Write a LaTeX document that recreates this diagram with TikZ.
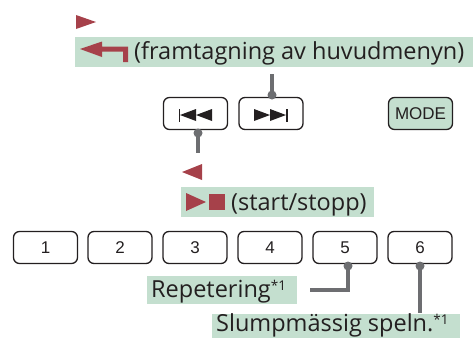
\documentclass[tikz,border=0pt]{standalone}
\usepackage{fontspec}
\setmainfont{Open Sans}
\newfontfamily\btnfont{Liberation Sans}
\definecolor{bandgreen}{HTML}{C4DFCF}
\definecolor{iconred}{HTML}{A6414A}
\definecolor{conngray}{HTML}{6D6E71}
\definecolor{ink}{HTML}{231F20}
\newcommand{\supone}{\raisebox{7pt}{\fontsize{13.5}{14}\selectfont *1}}
\begin{document}
\begin{tikzpicture}[x=1pt,y=-1pt,
  btn/.style={draw=ink,line width=1.3pt,rounded corners=6pt,minimum width=64pt,minimum height=32pt,inner sep=0pt,font=\btnfont\fontsize{17}{17}\selectfont,text=ink},
  band/.style={fill=bandgreen,inner sep=0pt,anchor=north west},
  lbl/.style={anchor=base west,inner sep=0pt,text=ink,font=\fontsize{23.5}{26}\selectfont},
  conn/.style={draw=conngray,line width=4pt},
  dot/.style={fill=conngray,circle,inner sep=0pt,minimum size=9pt},
  red/.style={fill=iconred}]
\useasboundingbox (0,0) rectangle (473,338);
% top band
\node[band,minimum width=398pt,minimum height=30pt] (menuband) at (75,37) {};
\node[lbl] (menutext) at (134,59) {(framtagning av huvudmenyn)};
\fill[red] (76,15) -- (96,22) -- (76,29) -- cycle;
\fill[red] (80,49) -- (102,41.5) -- (102,46.5) -- (128,46.5) -- (128,62) -- (123,62) -- (123,51.5) -- (102,51.5) -- (102,57) -- cycle;
% buttons
\node[btn] (prev) at (195.5,113.5) {};
\node[btn] (next) at (271,113.5) {};
\node[btn,fill=bandgreen] (mode) at (420.5,113.5) {MODE};
\fill[ink] (178.5,108.5) rectangle (180,121.5);
\fill[ink] (180,115) -- (196,109) -- (196,121) -- cycle;
\fill[ink] (196,115) -- (212,109) -- (212,121) -- cycle;
\fill[ink] (254,109) -- (270,115) -- (254,121) -- cycle;
\fill[ink] (270,109) -- (286,115) -- (270,121) -- cycle;
\fill[ink] (286,108.5) rectangle (287.5,121.5);
% top connector
\coordinate (ctop) at (272,74);
\node[dot] (dnext) at (272,95) {};
\draw[conn] (ctop) -- (dnext.center);
% prev connector
\node[dot] (dprev) at (198,133) {};
\coordinate (cprev) at (198,153);
\draw[conn] (dprev.center) -- (cprev);
\fill[red] (202,164) -- (182,172) -- (202,180) -- cycle;
% start/stop band
\node[band,minimum width=193pt,minimum height=30pt] (startband) at (181,187) {};
\node[lbl] (starttext) at (231,210) {(start/stopp)};
\fill[red] (186,193) -- (206,202) -- (186,211) -- cycle;
\fill[red] (209,194) rectangle (225,210);
% number buttons
\node[btn] (b1) at (45.5,247.5) {1};
\node[btn] (b2) at (120,247.5) {2};
\node[btn] (b3) at (195,247.5) {3};
\node[btn] (b4) at (270,247.5) {4};
\node[btn] (b5) at (345,247.5) {5};
\node[btn] (b6) at (420,247.5) {6};
% repeat
\node[band,minimum width=150pt,minimum height=28pt] (repband) at (147,276) {};
\node[lbl] (reptext) at (151,297) {Repetering\supone};
\node[dot] (d5) at (348,266) {};
\coordinate (c5) at (310,290);
\draw[conn] (d5.center) |- (c5);
% random
\node[band,minimum width=248pt,minimum height=24pt] (rndband) at (212,314) {};
\node[lbl] (rndtext) at (216,331) {Slumpmässig speln.\supone};
\node[dot] (d6) at (420,266) {};
\coordinate (c6) at (420,313);
\draw[conn] (d6.center) -- (c6);
\end{tikzpicture}
\end{document}
